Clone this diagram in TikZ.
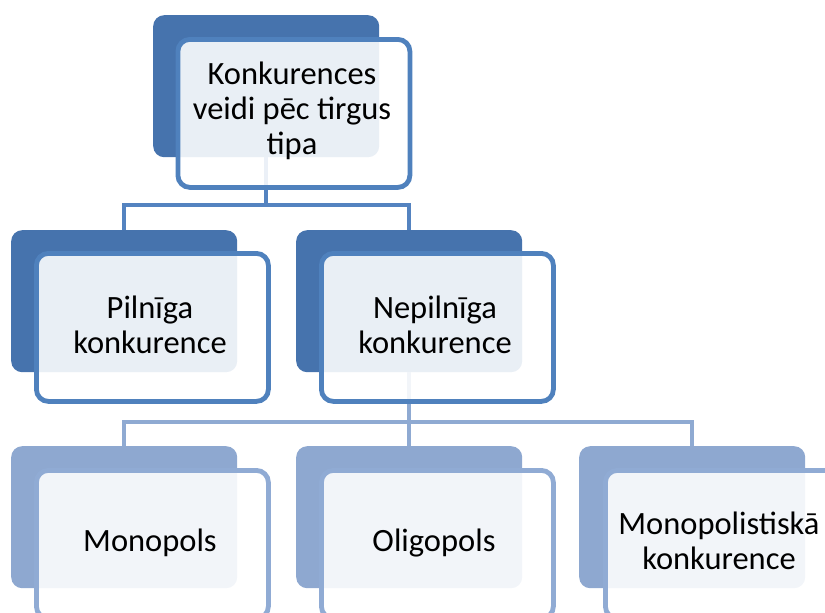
\documentclass[tikz,border=0pt]{standalone}
\usepackage{fontspec}
\setmainfont{Carlito}
\definecolor{backA}{HTML}{4673AD}
\definecolor{strokeA}{HTML}{4F81BD}
\definecolor{backB}{HTML}{8EA8D0}
\definecolor{strokeB}{HTML}{90ABD4}
\definecolor{connA}{HTML}{5483C0}
\definecolor{connB}{HTML}{8FAAD2}
\begin{document}
\begin{tikzpicture}[x=1pt,y=-1pt,
  backbox/.style={rectangle, rounded corners=11pt, inner sep=0pt, draw=none, anchor=north west},
  frontbox/.style={rectangle, rounded corners=12pt, inner sep=0pt, fill=white, fill opacity=0.885, line width=4.8pt, anchor=north west},
  bk/.style={backbox, fill=backA, minimum width=226pt, minimum height=142pt},
  bkl/.style={backbox, fill=backB, minimum width=226pt, minimum height=142pt},
  fr/.style={frontbox, draw=strokeA, minimum width=232pt, minimum height=148pt},
  frl/.style={frontbox, draw=strokeB, minimum width=232pt, minimum height=148pt},
  txt/.style={align=center, font=\fontsize{32.5}{35}\selectfont, text=black, inner sep=0pt},
  cA/.style={draw=connA, line width=4pt},
  cB/.style={draw=connB, line width=4pt}]
\useasboundingbox (0,0) rectangle (825,613);
% back boxes
\node[bk] (b1) at (153,15) {};
\node[bk] (b2) at (11,230) {};
\node[bk] (b3) at (296,230) {};
\node[bkl] (b4) at (11,446) {};
\node[bkl] (b5) at (296,446) {};
\node[bkl] (b6) at (579,446) {};
% connectors
\coordinate (h1) at (0,205);
\coordinate (h2) at (0,422);
\draw[cA] (b1.south) -- (b1.south |- h1);
\draw[cA] (b1.south |- h1) -| (b2.north);
\draw[cA] (b1.south |- h1) -| (b3.north);
\draw[cB] (b3.south) -- (b3.south |- h2);
\draw[cB] (b3.south |- h2) -| (b4.north);
\draw[cB] (b3.south |- h2) -- (b5.north);
\draw[cB] (b3.south |- h2) -| (b6.north);
% front boxes
\node[fr] (f1) at (175.5,37) {};
\node[fr] (f2) at (34,251) {};
\node[fr] (f3) at (319,251) {};
\node[frl] (f4) at (34,468) {};
\node[frl] (f5) at (319,468) {};
\node[frl] (f6) at (603,468) {};
% texts
\node[txt] (t1) at (292,111) {Konkurences\\veidi pēc tirgus\\tipa};
\node[txt] (t2) at (150,325) {Pilnīga\\konkurence};
\node[txt] (t3) at (435,325) {Nepilnīga\\konkurence};
\node[txt] (t4) at (150,543) {Monopols};
\node[txt] (t5) at (434,543) {Oligopols};
\node[txt] (t6) at (719,541) {Monopolistiskā\\konkurence};
\end{tikzpicture}
\end{document}
